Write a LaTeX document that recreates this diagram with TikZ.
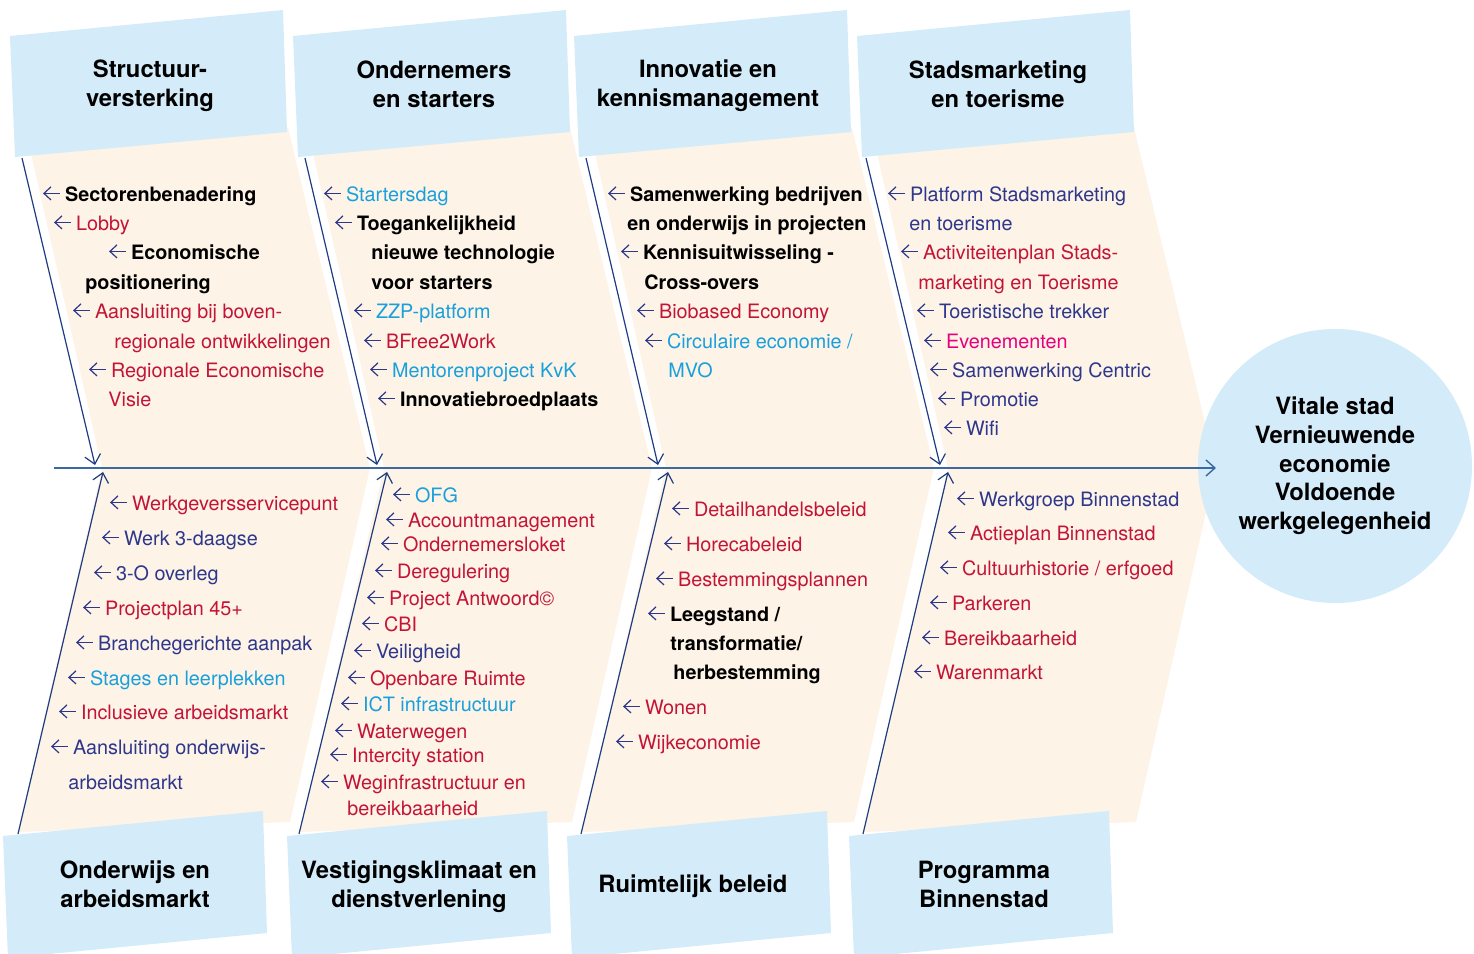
\documentclass[tikz,border=0pt]{standalone}
\usepackage{fontspec}
\setmainfont{TeX Gyre Heros}
\usetikzlibrary{arrows.meta}
\definecolor{boxblue}{RGB}{212,235,249}
\definecolor{cream}{RGB}{253,243,230}
\definecolor{bonenavy}{RGB}{30,60,130}
\definecolor{spineblue}{RGB}{60,105,160}
\definecolor{itemred}{RGB}{195,20,55}
\definecolor{itemnavy}{RGB}{45,55,140}
\definecolor{itemcyan}{RGB}{25,160,220}
\definecolor{itempink}{RGB}{230,0,126}
\newcommand{\itemarrow}{\tikz[baseline=0pt]\draw[itemnavy,line width=0.6pt,{Straight Barb[length=3.5pt,width=6.5pt]}-] (0pt,3.8pt) -- (8.5pt,3.8pt);\hspace{2.2pt}}

\begin{document}
\begin{tikzpicture}[x=0.5pt,y=-0.5pt,
    >={Straight Barb[length=4.5pt,width=8pt]},
    title/.style={align=center,font=\fontsize{11.9}{14.5}\selectfont\bfseries},
    entry/.style={anchor=base west,inner sep=0pt,font=\fontsize{9.9}{14}\selectfont},
    redtext/.style={entry,text=itemred},
    navytext/.style={entry,text=itemnavy},
    cyantext/.style={entry,text=itemcyan},
    pinktext/.style={entry,text=itempink},
    boldtext/.style={entry,font=\fontsize{9.9}{14}\selectfont\bfseries},
    bone/.style={bonenavy,line width=0.6pt}]
    \useasboundingbox (0,0) rectangle (1474,954);
    % cream bands
    \foreach \d in {0,282,564,846}
      \fill[cream] (28+\d,140) -- (288+\d,128) -- (370+\d,468) -- (290+\d,822) -- (18+\d,832) -- (102+\d,468) -- cycle;
    % boxes
    \foreach \d in {0,283,564,847}
      \fill[boxblue] (10+\d,36) -- (283+\d,10) -- (287+\d,132) -- (15+\d,157) -- cycle;
    \foreach \d in {0,284,564,846}
      \fill[boxblue] (3+\d,836) -- (263+\d,811) -- (267+\d,933) -- (8+\d,958) -- cycle;
    \node[title] (struct) at (150,86) {Structuur-\\versterking};
    \node[title] (onder) at (434,84) {Ondernemers\\en starters};
    \node[title] (innov) at (708,86) {Innovatie en\\kennismanagement};
    \node[title] (stads) at (998,84) {Stadsmarketing\\en toerisme};
    \node[title] (onderwijs) at (135,884) {Onderwijs en\\arbeidsmarkt};
    \node[title] (vestiging) at (419,887) {Vestigingsklimaat en\\dienstverlening};
    \node[title] (ruimte) at (693,886) {Ruimtelijk beleid};
    \node[title] (binnen) at (984,884) {Programma\\Binnenstad};
    \node[circle,fill=boxblue,minimum size=137pt,inner sep=0pt,align=center,
      font=\fontsize{11.9}{14.35}\selectfont\bfseries] (goal) at (1335,466)
      {Vitale stad\\Vernieuwende\\economie\\Voldoende\\werkgelegenheid};
    % spine and bones
    \coordinate (spinestart) at (54,468);
    \coordinate (spineend) at (1216,468);
    \draw[spineblue,line width=0.7pt,->] (spinestart) -- (spineend);
    \coordinate (bone1top) at (22,158);  \coordinate (bone1tip) at (95,465);
    \coordinate (bone2top) at (305,158); \coordinate (bone2tip) at (377,465);
    \coordinate (bone3top) at (586,158); \coordinate (bone3tip) at (658,465);
    \coordinate (bone4top) at (866,158); \coordinate (bone4tip) at (940,465);
    \coordinate (bone5top) at (18,834);  \coordinate (bone5tip) at (103,472);
    \coordinate (bone6top) at (299,834); \coordinate (bone6tip) at (387,472);
    \coordinate (bone7top) at (581,834); \coordinate (bone7tip) at (668,472);
    \coordinate (bone8top) at (863,834); \coordinate (bone8tip) at (948,472);
    \foreach \b in {1,...,8}
      \draw[bone,->] (bone\b top) -- (bone\b tip);
    % Structuurversterking
    \node[boldtext] (sector) at (42,201) {\itemarrow Sectorenbenadering};
    \node[redtext] (lobby) at (53,230) {\itemarrow Lobby};
    \node[boldtext] (econ) at (108,259) {\itemarrow Economische};
    \node[boldtext] (econb) at (85,289) {positionering};
    \node[redtext] (aansl) at (72,318) {\itemarrow Aansluiting bij boven-};
    \node[redtext] (aanslb) at (114,348) {regionale ontwikkelingen};
    \node[redtext] (regio) at (88,377) {\itemarrow Regionale Economische};
    \node[redtext] (regiob) at (108,406) {Visie};
    % Ondernemers en starters
    \node[cyantext] (startdag) at (323,201) {\itemarrow Startersdag};
    \node[boldtext] (toegang) at (334,230) {\itemarrow Toegankelijkheid};
    \node[boldtext] (toegangb) at (371,259) {nieuwe technologie};
    \node[boldtext] (toegangc) at (371,289) {voor starters};
    \node[cyantext] (zzp) at (353,318) {\itemarrow ZZP-platform};
    \node[redtext] (bfree) at (363,348) {\itemarrow BFree2Work};
    \node[cyantext] (mentor) at (369,377) {\itemarrow Mentorenproject KvK};
    \node[boldtext] (broed) at (377,406) {\itemarrow Innovatiebroedplaats};
    % Innovatie en kennismanagement
    \node[boldtext] (samen) at (607,201) {\itemarrow Samenwerking bedrijven};
    \node[boldtext] (samenb) at (627,230) {en onderwijs in projecten};
    \node[boldtext] (kennis) at (620,259) {\itemarrow Kennisuitwisseling -};
    \node[boldtext] (kennisb) at (644,289) {Cross-overs};
    \node[redtext] (biobased) at (636,318) {\itemarrow Biobased Economy};
    \node[cyantext] (circ) at (644,348) {\itemarrow Circulaire economie /};
    \node[cyantext] (circb) at (668,377) {MVO};
    % Stadsmarketing en toerisme
    \node[navytext] (platform) at (887,201) {\itemarrow Platform Stadsmarketing};
    \node[navytext] (platformb) at (909,230) {en toerisme};
    \node[redtext] (activ) at (900,259) {\itemarrow Activiteitenplan Stads-};
    \node[redtext] (activb) at (918,289) {marketing en Toerisme};
    \node[navytext] (trekker) at (916,318) {\itemarrow Toeristische trekker};
    \node[pinktext] (events) at (923,348) {\itemarrow Evenementen};
    \node[navytext] (centric) at (929,377) {\itemarrow Samenwerking Centric};
    \node[navytext] (promo) at (937,406) {\itemarrow Promotie};
    \node[navytext] (wifi) at (943,435) {\itemarrow Wifi};
    % Onderwijs en arbeidsmarkt
    \node[redtext] (wsp) at (109,510) {\itemarrow Werkgeversservicepunt};
    \node[navytext] (werk3) at (101,545) {\itemarrow Werk 3-daagse};
    \node[navytext] (drieo) at (93,580) {\itemarrow 3-O overleg};
    \node[redtext] (plan45) at (82,615) {\itemarrow Projectplan 45+};
    \node[navytext] (branche) at (75,650) {\itemarrow Branchegerichte aanpak};
    \node[cyantext] (stages) at (67,685) {\itemarrow Stages en leerplekken};
    \node[redtext] (inclusief) at (58,719) {\itemarrow Inclusieve arbeidsmarkt};
    \node[navytext] (ondaansl) at (50,754) {\itemarrow Aansluiting onderwijs-};
    \node[navytext] (ondaanslb) at (68,789) {arbeidsmarkt};
    % Vestigingsklimaat en dienstverlening
    \node[cyantext] (ofg) at (392,502) {\itemarrow OFG};
    \node[redtext] (account) at (385,527) {\itemarrow Accountmanagement};
    \node[redtext] (loket) at (380,551) {\itemarrow Ondernemersloket};
    \node[redtext] (dereg) at (374,578) {\itemarrow Deregulering};
    \node[redtext] (antw) at (366,605) {\itemarrow Project Antwoord©};
    \node[redtext] (cbi) at (361,631) {\itemarrow CBI};
    \node[navytext] (veilig) at (353,658) {\itemarrow Veiligheid};
    \node[redtext] (ruimte) at (347,685) {\itemarrow Openbare Ruimte};
    \node[cyantext] (ict) at (340,711) {\itemarrow ICT infrastructuur};
    \node[redtext] (water) at (334,738) {\itemarrow Waterwegen};
    \node[redtext] (ic) at (329,762) {\itemarrow Intercity station};
    \node[redtext] (weg) at (320,789) {\itemarrow Weginfrastructuur en};
    \node[redtext] (wegb) at (347,815) {bereikbaarheid};
    % Ruimtelijk beleid
    \node[redtext] (detail) at (671,516) {\itemarrow Detailhandelsbeleid};
    \node[redtext] (horeca) at (663,551) {\itemarrow Horecabeleid};
    \node[redtext] (bestem) at (655,586) {\itemarrow Bestemmingsplannen};
    \node[boldtext] (leeg) at (647,621) {\itemarrow Leegstand /};
    \node[boldtext] (leegb) at (670,650) {transformatie/};
    \node[boldtext] (leegc) at (673,679) {herbestemming};
    \node[redtext] (wonen) at (622,714) {\itemarrow Wonen};
    \node[redtext] (wijk) at (615,749) {\itemarrow Wijkeconomie};
    % Programma Binnenstad
    \node[navytext] (werkgroep) at (956,506) {\itemarrow Werkgroep Binnenstad};
    \node[redtext] (actie) at (947,540) {\itemarrow Actieplan Binnenstad};
    \node[redtext] (cultuur) at (939,575) {\itemarrow Cultuurhistorie / erfgoed};
    \node[redtext] (parkeren) at (929,610) {\itemarrow Parkeren};
    \node[redtext] (bereik) at (921,645) {\itemarrow Bereikbaarheid};
    \node[redtext] (markt) at (913,679) {\itemarrow Warenmarkt};
  \end{tikzpicture}
\end{document}
